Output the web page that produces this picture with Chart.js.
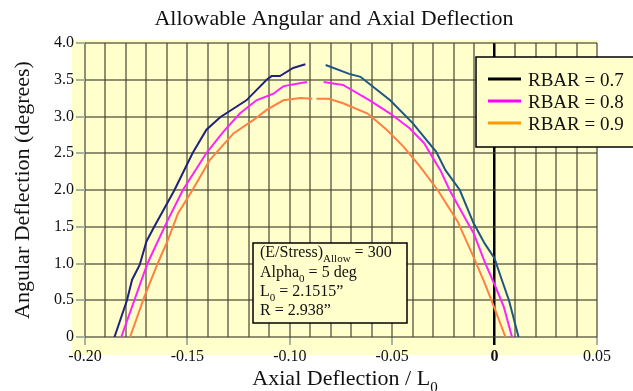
<!DOCTYPE html>
<html>
<head>
<meta charset="utf-8">
<script src="https://cdn.jsdelivr.net/npm/chart.js@4/dist/chart.umd.min.js"></script>
<style>
  html, body { margin: 0; padding: 0; background: #fff; }
  #wrap { width: 633px; height: 391px; position: relative; }
</style>
</head>
<body>
<div id="wrap"><canvas id="deflectionChart"></canvas></div>
<script>
// axes
const xMin = -0.20, xMax = 0.05, xStep = 0.01, xLabelStep = 0.05;
const yMin = 0, yMax = 4.0, yStep = 0.5;

const chartTitle = 'Allowable Angular and Axial Deflection';
const yTitle = 'Angular Deflection (degrees)';
const seriesNames = ['RBAR = 0.7', 'RBAR = 0.8', 'RBAR = 0.9'];

// RBAR = 0.7 (curve is split near the apex)
const r07LeftX = [-0.1856, -0.1795, -0.177, -0.1733, -0.170, -0.1662, -0.1563, -0.1475, -0.1407, -0.134, -0.1212, -0.1113, -0.1089, -0.1048, -0.0984, -0.0924];
const r07LeftY = [0, 0.5, 0.78, 0.98, 1.30, 1.50, 2.0, 2.5, 2.82, 2.99, 3.22, 3.50, 3.55, 3.55, 3.66, 3.71];
const r07RightX = [-0.0825, -0.071, -0.0655, -0.051, -0.040, -0.0285, -0.024, -0.017, -0.0103, -0.0048, 0.0, 0.003, 0.007, 0.0117];
const r07RightY = [3.70, 3.58, 3.54, 3.22, 2.91, 2.52, 2.27, 2.0, 1.55, 1.27, 1.07, 0.82, 0.50, 0];

// RBAR = 0.8
const r08LeftX = [-0.1823, -0.1759, -0.1695, -0.1603, -0.1522, -0.1408, -0.1325, -0.1244, -0.1163, -0.108, -0.1032, -0.100, -0.0916];
const r08LeftY = [0, 0.5, 1.0, 1.55, 2.0, 2.5, 2.79, 3.04, 3.22, 3.31, 3.41, 3.43, 3.47];
const r08RightX = [-0.0835, -0.074, -0.061, -0.051, -0.0415, -0.0345, -0.0265, -0.022, -0.0135, -0.0102, -0.0048, 0.0005, 0.0045, 0.0085];
const r08RightY = [3.47, 3.43, 3.22, 3.04, 2.84, 2.64, 2.27, 2.0, 1.57, 1.41, 1.02, 0.68, 0.41, 0];

// RBAR = 0.9
const r09LeftX = [-0.178, -0.171, -0.1645, -0.1595, -0.1546, -0.1475, -0.139, -0.1275, -0.1179, -0.1113, -0.1032, -0.0947, -0.089];
const r09LeftY = [0, 0.55, 1.0, 1.32, 1.68, 2.0, 2.41, 2.77, 2.95, 3.09, 3.22, 3.25, 3.24];
const r09RightX = [-0.087, -0.081, -0.074, -0.062, -0.0527, -0.0445, -0.0365, -0.0278, -0.018, -0.0103, -0.0048, -0.0003, 0.0053];
const r09RightY = [3.24, 3.24, 3.18, 3.04, 2.82, 2.59, 2.32, 2.0, 1.57, 1.09, 0.73, 0.41, 0];

const serif = "'Liberation Serif', 'Times New Roman', serif";
const gridColor = 'rgba(70, 70, 50, 0.6)';
const tickMarkColor = '#a8b4a0';

function pts(xs, ys) {
    return xs.map((x, i) => ({ x: x, y: ys[i] }));
}

function isZero(v) { return Math.abs(v) < 1e-9; }
function isLabelTick(v) {
    const k = v / xLabelStep;
    return Math.abs(k - Math.round(k)) < 1e-6;
}

// text with subscripts: parts = [[text, isSub], ...]
function drawRich(ctx, parts, x, y, size) {
    let cx = x;
    parts.forEach(([txt, sub]) => {
        ctx.font = (sub ? Math.round(size * 0.7) : size) + 'px ' + serif;
        ctx.fillText(txt, cx, sub ? y + size * 0.3 : y);
        cx += ctx.measureText(txt).width;
    });
    return cx - x;
}
function richWidth(ctx, parts, size) {
    let w = 0;
    parts.forEach(([txt, sub]) => {
        ctx.font = (sub ? Math.round(size * 0.7) : size) + 'px ' + serif;
        w += ctx.measureText(txt).width;
    });
    return w;
}

const legendColors = ['#000000', '#ff00ff', '#ff9900'];
const noteLines = [
    [['(E/Stress)', false], ['Allow', true], [' = 300', false]],
    [['Alpha', false], ['0', true], [' = 5 deg', false]],
    [['L', false], ['0', true], [' = 2.1515\u201D', false]],
    [['R = 2.938\u201D', false]]
];
const xTitleParts = [['Axial Deflection / L', false], ['0', true]];

// yellow panel behind the plot
const backdrop = {
    id: 'backdrop',
    beforeDraw(chart) {
        const { ctx, chartArea: a } = chart;
        ctx.save();
        ctx.fillStyle = '#ffffcc';
        ctx.fillRect(a.left - 13, a.top - 3, a.right - a.left + 14, a.bottom - a.top + 21);
        ctx.restore();
    }
};

// title, x title, legend box and note box
const overlays = {
    id: 'overlays',
    afterDraw(chart) {
        const { ctx, chartArea: a } = chart;
        ctx.save();
        ctx.fillStyle = '#111';
        ctx.textBaseline = 'alphabetic';
        ctx.textAlign = 'left';

        // chart title
        ctx.font = '22px ' + serif;
        const tw = ctx.measureText(chartTitle).width;
        ctx.fillText(chartTitle, (a.left + a.right) / 2 - 7 - tw / 2, 25);

        // x axis title
        const xw = richWidth(ctx, xTitleParts, 22);
        drawRich(ctx, xTitleParts, (a.left + a.right) / 2 + 4 - xw / 2, 385, 22);

        // legend
        const lx = a.right - 121, ly = a.top + 14;
        ctx.fillStyle = '#ffffcc';
        ctx.fillRect(lx, ly, 170, 90);
        ctx.strokeStyle = '#000';
        ctx.lineWidth = 1.5;
        ctx.strokeRect(lx, ly, 170, 90);
        seriesNames.forEach((name, i) => {
            const yy = ly + 22 + i * 22;
            ctx.strokeStyle = legendColors[i];
            ctx.lineWidth = 3;
            ctx.beginPath();
            ctx.moveTo(lx + 12, yy);
            ctx.lineTo(lx + 45, yy);
            ctx.stroke();
            ctx.fillStyle = '#111';
            ctx.font = '19px ' + serif;
            ctx.fillText(name, lx + 52, yy + 7);
        });

        // parameter box
        const nx = a.left + 168, ny = a.top + 200;
        ctx.fillStyle = '#ffffcc';
        ctx.fillRect(nx, ny, 154, 80);
        ctx.strokeStyle = '#000';
        ctx.lineWidth = 1.5;
        ctx.strokeRect(nx, ny, 154, 80);
        ctx.fillStyle = '#111';
        const baselines = [14, 34, 53, 72];
        noteLines.forEach((parts, i) => drawRich(ctx, parts, nx + 7, ny + baselines[i], 16));
        ctx.restore();
    }
};

const datasets = [
    { label: seriesNames[0], data: pts(r07LeftX, r07LeftY), borderColor: '#20227e' },
    { label: seriesNames[0], data: pts(r07RightX, r07RightY), borderColor: '#1f5585' },
    { label: seriesNames[1], data: pts(r08LeftX, r08LeftY), borderColor: '#ff22ff' },
    { label: seriesNames[1], data: pts(r08RightX, r08RightY), borderColor: '#ff22ff' },
    { label: seriesNames[2], data: pts(r09LeftX, r09LeftY), borderColor: '#ff8040' },
    { label: seriesNames[2], data: pts(r09RightX, r09RightY), borderColor: '#ff8040' }
].map(d => Object.assign(d, { showLine: true, borderWidth: 2, pointRadius: 0, tension: 0, fill: false }));

new Chart(document.getElementById('deflectionChart'), {
    type: 'scatter',
    data: { datasets: datasets },
    options: {
        responsive: true,
        maintainAspectRatio: false,
        animation: false,
        layout: { padding: { top: 43, right: 36, left: 0, bottom: 0 } },
        plugins: {
            legend: { display: false },
            title: { display: false },
            tooltip: { enabled: false }
        },
        scales: {
            x: {
                type: 'linear',
                min: xMin,
                max: xMax,
                afterFit: s => { s.height = 54; },
                border: { display: false },
                grid: {
                    color: c => (c.tick && isZero(c.tick.value)) ? '#000' : gridColor,
                    lineWidth: c => (c.tick && isZero(c.tick.value)) ? 2.5 : 2,
                    tickLength: 8,
                    tickColor: c => {
                        if (!c.tick) return 'transparent';
                        if (isZero(c.tick.value)) return '#000';
                        return isLabelTick(c.tick.value) ? tickMarkColor : 'transparent';
                    }
                },
                ticks: {
                    stepSize: xStep,
                    autoSkip: false,
                    maxRotation: 0,
                    padding: 2,
                    color: '#111',
                    font: c => ({ family: serif, size: 16, weight: (c.tick && isZero(c.tick.value)) ? 'bold' : 'normal' }),
                    callback: v => isLabelTick(v) ? (isZero(v) ? '0' : v.toFixed(2)) : ''
                },
                title: { display: false }
            },
            y: {
                min: yMin,
                max: yMax,
                afterFit: s => { s.width = 85; },
                border: { display: false },
                grid: { color: gridColor, lineWidth: 2, tickLength: 9, tickColor: tickMarkColor },
                ticks: {
                    stepSize: yStep,
                    padding: 2,
                    color: '#111',
                    font: { family: serif, size: 16 },
                    callback: v => isZero(v) ? '0' : v.toFixed(1)
                },
                title: {
                    display: true,
                    text: yTitle,
                    color: '#111',
                    font: { family: serif, size: 22 },
                    padding: { top: 10, bottom: 0 }
                }
            }
        }
    },
    plugins: [backdrop, overlays]
});
</script>
</body>
</html>
